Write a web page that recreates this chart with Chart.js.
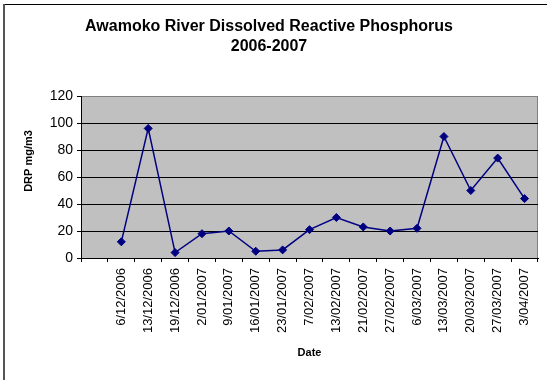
<!DOCTYPE html>
<html>
<head>
<meta charset="utf-8">
<title>Awamoko River DRP</title>
<script src="https://cdn.jsdelivr.net/npm/chart.js@4.4.1/dist/chart.umd.min.js"></script>
<style>
  html, body { margin: 0; padding: 0; background: #ffffff; }
  canvas { display: block; }
</style>
</head>
<body>
<canvas id="drp-chart" width="547" height="380"></canvas>
<script>
// Sampling dates (first slot is left empty on the axis)
const sampleDates = ['', '6/12/2006', '13/12/2006', '19/12/2006', '2/01/2007', '9/01/2007',
    '16/01/2007', '23/01/2007', '7/02/2007', '13/02/2007', '21/02/2007', '27/02/2007',
    '6/03/2007', '13/03/2007', '20/03/2007', '27/03/2007', '3/04/2007'];

// Dissolved reactive phosphorus, mg/m3
const drpValues = [null, 12, 96, 4, 18, 20, 5, 6, 21, 30, 23, 20, 22, 90, 50, 74, 44];

const yTicks = [0, 20, 40, 60, 80, 100, 120];

const FONT = "'Liberation Sans', Arial, sans-serif";

// Grey plot area plus the frame lines around the whole chart
const plotFrame = {
    id: 'plotFrame',
    beforeDraw(chart) {
        const { ctx, chartArea: a } = chart;
        ctx.save();
        ctx.fillStyle = '#c0c0c0';
        ctx.fillRect(a.left, a.top, a.right - a.left, a.bottom - a.top);
        ctx.strokeStyle = '#808080';
        ctx.lineWidth = 1;
        ctx.strokeRect(a.left + 0.5, a.top + 0.5, a.right - a.left - 1, a.bottom - a.top);
        ctx.restore();
    },
    afterDraw(chart) {
        const { ctx } = chart;
        ctx.save();
        // outer border (top and left)
        ctx.strokeStyle = '#000000';
        ctx.lineWidth = 1;
        ctx.beginPath();
        ctx.moveTo(3, 4.5);
        ctx.lineTo(chart.width, 4.5);
        ctx.stroke();
        ctx.strokeStyle = '#555555';
        ctx.lineWidth = 2;
        ctx.beginPath();
        ctx.moveTo(4, 4);
        ctx.lineTo(4, chart.height);
        ctx.stroke();

        // y axis title
        ctx.translate(29, 161);
        ctx.rotate(-Math.PI / 2);
        ctx.fillStyle = '#000000';
        ctx.font = `bold 11px ${FONT}`;
        ctx.textAlign = 'center';
        ctx.textBaseline = 'middle';
        ctx.fillText('DRP mg/m3', 0, 0);
        ctx.restore();
    }
};

new Chart(document.getElementById('drp-chart'), {
    type: 'line',
    data: {
        labels: sampleDates,
        datasets: [{
            label: 'DRP',
            data: drpValues,
            borderColor: '#000080',
            backgroundColor: '#000080',
            borderWidth: 1.5,
            pointStyle: 'rectRot',
            pointRadius: 4,
            pointBorderWidth: 1,
            tension: 0,
            spanGaps: false
        }]
    },
    options: {
        responsive: false,
        animation: false,
        layout: { padding: { left: 0, right: 9, top: 0, bottom: 0 } },
        plugins: {
            legend: { display: false },
            tooltip: { enabled: false },
            title: {
                display: true,
                text: ['Awamoko River Dissolved Reactive Phosphorus', '2006-2007'],
                color: '#000000',
                font: { family: FONT, size: 16, weight: 'bold', lineHeight: 1.25 },
                padding: { top: 16.5, bottom: 39.5 }
            }
        },
        scales: {
            x: {
                type: 'category',
                offset: true,
                afterFit(scale) { scale.height = 122; },
                grid: {
                    offset: true,
                    drawOnChartArea: false,
                    drawTicks: true,
                    tickLength: 4,
                    color: '#000000'
                },
                border: { display: true, color: '#000000', width: 1 },
                ticks: {
                    autoSkip: false,
                    minRotation: 90,
                    maxRotation: 90,
                    padding: 6,
                    color: '#000000',
                    font: { family: FONT, size: 13 }
                },
                title: {
                    display: true,
                    text: 'Date',
                    color: '#000000',
                    font: { family: FONT, size: 11, weight: 'bold', lineHeight: 1.2 },
                    padding: { top: 4, bottom: 20.5 }
                }
            },
            y: {
                min: 0,
                max: 120,
                afterFit(scale) { scale.width = 81; },
                afterBuildTicks(scale) { scale.ticks = yTicks.map(v => ({ value: v })); },
                grid: {
                    drawTicks: true,
                    tickLength: 4,
                    color: (c) => (c.tick && c.tick.value === 120 ? '#808080' : '#000000'),
                    tickColor: '#000000'
                },
                border: { display: true, color: '#000000', width: 1 },
                ticks: {
                    padding: 4,
                    color: '#000000',
                    font: { family: FONT, size: 14 }
                }
            }
        }
    },
    plugins: [plotFrame]
});
</script>
</body>
</html>
